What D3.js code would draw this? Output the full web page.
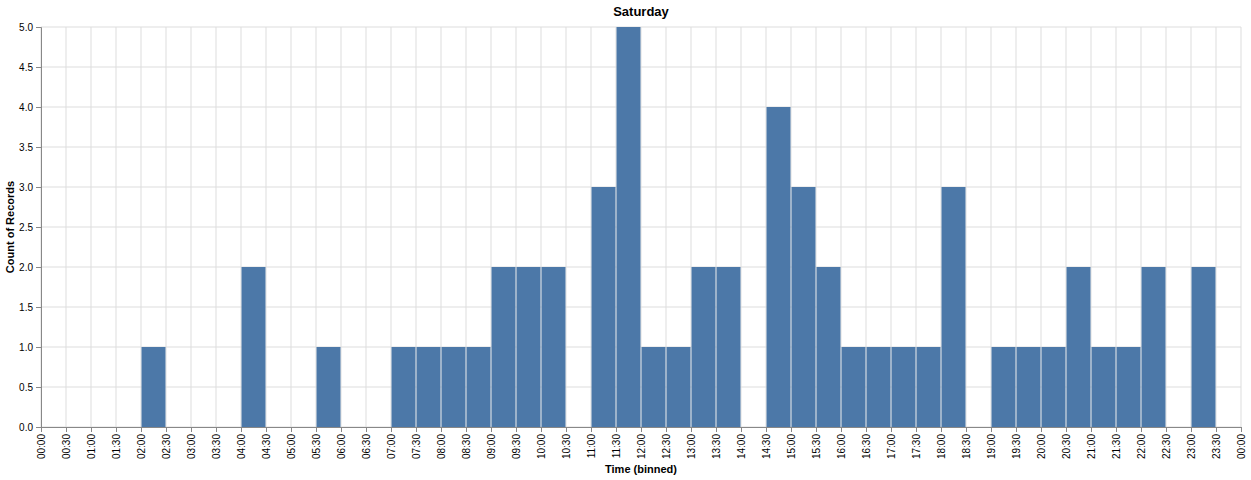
<!DOCTYPE html>
<html><head><meta charset="utf-8">
<script src="https://cdn.jsdelivr.net/npm/d3@7"></script>
<style>body{margin:0;background:#fff;font-family:"Liberation Sans",Arial,sans-serif}</style>
</head><body>
<script>
var binLabels = ["00:00","00:30","01:00","01:30","02:00","02:30","03:00","03:30","04:00","04:30","05:00","05:30",
  "06:00","06:30","07:00","07:30","08:00","08:30","09:00","09:30","10:00","10:30","11:00","11:30",
  "12:00","12:30","13:00","13:30","14:00","14:30","15:00","15:30","16:00","16:30","17:00","17:30",
  "18:00","18:30","19:00","19:30","20:00","20:30","21:00","21:30","22:00","22:30","23:00","23:30","00:00"];
var counts = [0,0,0,0,1,0,0,0,2,0,0,1, 0,0,1,1,1,1,2,2,2,0,3,5, 1,1,2,2,0,4,3,2,1,1,1,1, 3,0,1,1,1,2,1,1,2,0,2,0];
var yTicks = [0,0.5,1,1.5,2,2.5,3,3.5,4,4.5,5];

var width = 1251, height = 480, marginLeft = 41, marginTop = 27, plotW = 1200, plotH = 400;

var svg = d3.select("body").append("svg").attr("width", width).attr("height", height);
var g = svg.append("g").attr("transform", "translate(" + marginLeft + "," + marginTop + ")");

var x = d3.scaleLinear().domain([0, 48]).range([0, plotW]);
var y = d3.scaleLinear().domain([0, 5]).range([plotH, 0]);

// grid
g.selectAll(".gy").data(yTicks).enter().append("line")
  .attr("x1", 0).attr("x2", plotW).attr("y1", y).attr("y2", y)
  .attr("stroke", "#ddd");
g.selectAll(".gx").data(d3.range(49)).enter().append("line")
  .attr("x1", x).attr("x2", x).attr("y1", 0).attr("y2", plotH)
  .attr("stroke", "#ddd");

// bars
counts.forEach(function(d, i) {
  if (d <= 0) return;
  g.append("rect")
    .attr("x", x(i) + 0.5).attr("width", x(i + 1) - x(i) - 1)
    .attr("y", y(d)).attr("height", y(0) - y(d))
    .attr("fill", "#4c78a8");
});

// y axis
var ya = g.append("g").call(d3.axisLeft(y).tickValues(yTicks).tickFormat(d3.format(".1f")).tickSize(5));
ya.select(".domain").attr("stroke", "#888");
ya.selectAll(".tick line").attr("stroke", "#888");
ya.selectAll("text").attr("font-size", 10).attr("fill", "#000").attr("font-family", "Liberation Sans, Arial, sans-serif");

// x axis
var xa = g.append("g").attr("transform", "translate(0," + plotH + ")")
  .call(d3.axisBottom(x).tickValues(d3.range(49)).tickFormat(function(i) { return binLabels[i]; }).tickSize(5));
xa.select(".domain").attr("stroke", "#888");
xa.selectAll(".tick line").attr("stroke", "#888");
xa.selectAll("text")
  .attr("font-size", 10).attr("fill", "#000").attr("font-family", "Liberation Sans, Arial, sans-serif")
  .attr("transform", "rotate(-90)").attr("text-anchor", "end")
  .attr("x", -7).attr("y", 0).attr("dy", "0.35em");

// titles
svg.append("text").attr("x", marginLeft + plotW / 2).attr("y", 16).attr("text-anchor", "middle")
  .attr("font-size", 13).attr("font-weight", "bold").text("Saturday");
svg.append("text").attr("x", marginLeft + plotW / 2).attr("y", 473).attr("text-anchor", "middle")
  .attr("font-size", 11).attr("font-weight", "bold").text("Time (binned)");
svg.append("text").attr("transform", "translate(14," + (marginTop + plotH / 2) + ") rotate(-90)")
  .attr("text-anchor", "middle").attr("font-size", 11).attr("font-weight", "bold").text("Count of Records");
</script>
</body></html>
